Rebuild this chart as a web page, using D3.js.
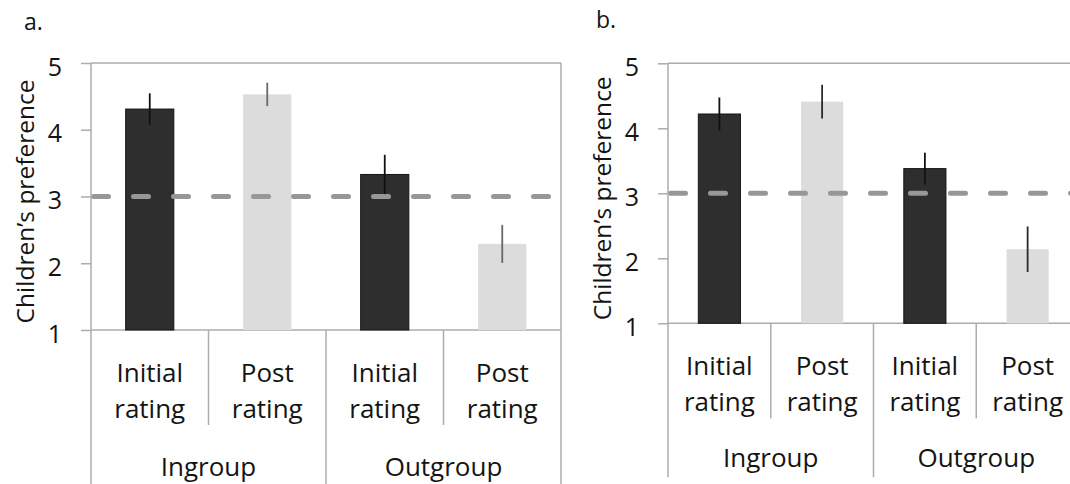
<html>
<head>
<meta charset="utf-8">
<script src="https://d3js.org/d3.v7.min.js"></script>
<style type="text/css">
	body { margin: 0; background: #fff; }
	svg { display: block; }
	text { font-family: "Open Sans", sans-serif; fill: #141414; }
</style>
</head>
<body>
<script type="text/javascript">
	// chart values
	var groups = ["Ingroup", "Outgroup"];
	var conditions = [["Initial", "rating"], ["Post", "rating"]];
	var barKeys = ["in-initial", "in-post", "out-initial", "out-post"];
	var yTicks = [1, 2, 3, 4, 5];
	var chanceLevel = 3;

	var panelAMeans = [4.31, 4.53, 3.33, 2.29];
	var panelAErrors = [0.235, 0.175, 0.295, 0.285];
	var panelBMeans = [4.22, 4.41, 3.38, 2.14];
	var panelBErrors = [0.255, 0.26, 0.245, 0.35];

	var w = 1070;
	var h = 484;
	var frameColor = "#acacac";

	var svg = d3.select("body")
		.append("svg")
		.attr("width", w)
		.attr("height", h);

	drawPanel({label: "a.", labelX: 24, labelY: 30, left: 91, right: 561, top: 63, bottom: 330,
		means: panelAMeans, errors: panelAErrors, lightErr: "#686868", groupY: 146});
	drawPanel({label: "b.", labelX: 596, labelY: 28, left: 668, right: 1079, top: 63.3, bottom: 323.3,
		means: panelBMeans, errors: panelBErrors, lightErr: "#2a2a2a", groupY: 144});

	function drawPanel(p) {
		var g = svg.append("g");

		var x = d3.scaleBand()
			.domain(barKeys)
			.range([p.left, p.right])
			.paddingInner(0)
			.paddingOuter(0);
		var y = d3.scaleLinear()
			.domain([1, 5])
			.range([p.bottom, p.top]);
		var bw = x.bandwidth() * 0.41;

		// panel letter
		g.append("text")
			.text(p.label)
			.attr("x", p.labelX)
			.attr("y", p.labelY)
			.attr("font-size", 23);

		// y axis (ticks + labels), top and bottom lines run across the plot
		var yAxis = d3.axisLeft(y)
			.tickValues(yTicks)
			.tickSize(10)
			.tickPadding(19)
			.tickFormat(d3.format("d"));
		var ax = g.append("g")
			.attr("transform", "translate(" + p.left + ",0)")
			.call(yAxis);
		ax.select(".domain").remove();
		ax.selectAll(".tick line")
			.attr("stroke", frameColor)
			.attr("stroke-width", 1.5);
		ax.selectAll(".tick text")
			.attr("font-size", 25)
			.attr("font-family", "Open Sans, sans-serif")
			.attr("fill", "#141414")
			.attr("dy", "0.48em");

		[1, 5].forEach(function(v) {
			g.append("line")
				.attr("x1", p.left).attr("x2", p.right)
				.attr("y1", y(v)).attr("y2", y(v))
				.attr("stroke", frameColor)
				.attr("stroke-width", 1.5);
		});

		// y title
		g.append("text")
			.text("Children\u2019s preference")
			.attr("transform", "translate(" + (p.left - 57) + "," + ((p.top + p.bottom) / 2 + 5) + ") rotate(-90)")
			.attr("text-anchor", "middle")
			.attr("font-size", 24.5);

		// bars
		g.selectAll(".bar")
			.data(p.means)
			.enter()
			.append("rect")
			.attr("x", function(d, i) { return x(barKeys[i]) + (x.bandwidth() - bw) / 2; })
			.attr("y", function(d) { return y(d); })
			.attr("width", bw)
			.attr("height", function(d) { return y(1) - y(d); })
			.attr("fill", function(d, i) { return i % 2 == 0 ? "#2e2e2e" : "#dcdcdc"; })
			.attr("stroke", function(d, i) { return i % 2 == 0 ? "#151515" : "none"; })
			.attr("stroke-width", 1);

		// reference line at 3
		g.append("line")
			.attr("x1", p.left + 2.5).attr("x2", p.right)
			.attr("y1", y(chanceLevel)).attr("y2", y(chanceLevel))
			.attr("stroke", "#979797")
			.attr("stroke-width", 5)
			.attr("stroke-linecap", "round")
			.attr("stroke-dasharray", "15,25");

		// error bars
		g.selectAll(".err")
			.data(p.means)
			.enter()
			.append("line")
			.attr("x1", function(d, i) { return x(barKeys[i]) + x.bandwidth() / 2; })
			.attr("x2", function(d, i) { return x(barKeys[i]) + x.bandwidth() / 2; })
			.attr("y1", function(d, i) { return y(d + p.errors[i]); })
			.attr("y2", function(d, i) { return y(d - p.errors[i]); })
			.attr("stroke", function(d, i) { return i % 2 == 0 ? "#111" : p.lightErr; })
			.attr("stroke-width", 1.8);

		// right frame edge
		g.append("line")
			.attr("x1", p.right).attr("x2", p.right)
			.attr("y1", p.top).attr("y2", p.bottom + 160)
			.attr("stroke", frameColor)
			.attr("stroke-width", 1.5);

		// category dividers below the axis
		for (var i = 0; i < barKeys.length; i++) {
			var xx = x(barKeys[i]);
			var isGroupEdge = (i % 2 == 0);
			g.append("line")
				.attr("x1", xx).attr("x2", xx)
				.attr("y1", i == 0 ? p.top : p.bottom)
				.attr("y2", p.bottom + (isGroupEdge ? 154 : 95))
				.attr("stroke", frameColor)
				.attr("stroke-width", 1.5);
		}

		// condition labels (two lines)
		barKeys.forEach(function(k, i) {
			var c = conditions[i % 2];
			var t = g.append("text")
				.attr("text-anchor", "middle")
				.attr("font-size", 26);
			t.append("tspan")
				.attr("x", x(k) + x.bandwidth() / 2)
				.attr("y", p.bottom + 52)
				.text(c[0]);
			t.append("tspan")
				.attr("x", x(k) + x.bandwidth() / 2)
				.attr("y", p.bottom + 88)
				.text(c[1]);
		});

		// group labels
		groups.forEach(function(gr, j) {
			var x0 = x(barKeys[j * 2]);
			g.append("text")
				.text(gr)
				.attr("x", x0 + x.bandwidth())
				.attr("y", p.bottom + p.groupY)
				.attr("text-anchor", "middle")
				.attr("font-size", 26);
		});
	}
</script>
</body>
</html>
